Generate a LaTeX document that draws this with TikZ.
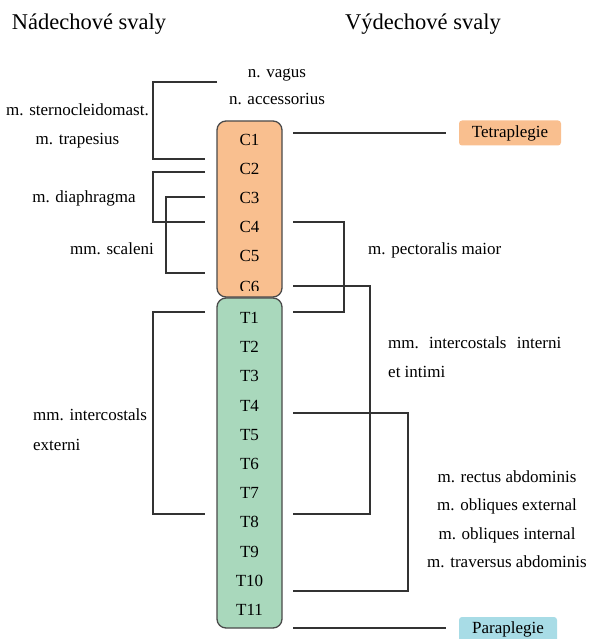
\documentclass[tikz,border=0pt]{standalone}
\usepackage{fontspec}
\setmainfont{Liberation Serif}
\definecolor{cervical}{HTML}{F9BF8F}
\definecolor{thoracic}{HTML}{A9D8BC}
\definecolor{lumbar}{HTML}{A8DCE6}
\definecolor{edge}{HTML}{4A4A4A}
\begin{document}
\begin{tikzpicture}[x=1pt,y=-1pt,
  every node/.style={inner sep=0pt,font=\fontsize{17}{20}\selectfont},
  head/.style={anchor=base,font=\fontsize{22.5}{26}\selectfont},
  musc/.style={anchor=base},
  vlabel/.style={anchor=center},
  spine/.style={draw=edge,line width=1.3pt,rounded corners=9pt},
  tag/.style={rounded corners=3pt,minimum height=25pt},
  link/.style={draw=black!80,line width=1.2pt}]
\useasboundingbox (0,0) rectangle (591,639);

% headings
\node[head] (insp) at (89,30) {Nádechové svaly};
\node[head] (exsp) at (423,30) {Výdechové svaly};

% spine
\draw[spine,fill=cervical] (217,121) rectangle (282,297);
\begin{scope}
  \clip (217,121) rectangle (282,290);
  \node[vlabel] (C6) at (249.5,287) {C6};
\end{scope}
\node[vlabel] (C1) at (249.5,140) {C1};
\node[vlabel] (C2) at (249.5,169) {C2};
\node[vlabel] (C3) at (249.5,198) {C3};
\node[vlabel] (C4) at (249.5,227) {C4};
\node[vlabel] (C5) at (249.5,256) {C5};

\draw[spine,fill=thoracic] (217,298) rectangle (282,628);
\node[vlabel] (T1) at (249.5,318) {T1};
\node[vlabel] (T2) at (249.5,347.2) {T2};
\node[vlabel] (T3) at (249.5,376.4) {T3};
\node[vlabel] (T4) at (249.5,405.6) {T4};
\node[vlabel] (T5) at (249.5,434.8) {T5};
\node[vlabel] (T6) at (249.5,464) {T6};
\node[vlabel] (T7) at (249.5,493.2) {T7};
\node[vlabel] (T8) at (249.5,522.4) {T8};
\node[vlabel] (T9) at (249.5,551.6) {T9};
\node[vlabel] (T10) at (249.5,580.8) {T10};
\node[vlabel] (T11) at (249.5,610) {T11};

% inspiratory muscles
\node[musc] (vagus) at (277,78) {n. vagus};
\node[musc] (access) at (277,105) {n. accessorius};
\node[musc] (scm) at (77.5,116) {m. sternocleidomast.};
\node[musc] (trap) at (77.5,145) {m. trapesius};
\node[musc] (diaph) at (84,202) {m. diaphragma};
\node[musc] (scal) at (112,254) {mm. scaleni};
\node[musc,anchor=base west] (icext) at (33,420) {mm. intercostals};
\node[musc,anchor=base west] (icext2) at (33,450) {externi};

\draw[link] (217,82) -- (153,82) -- (153,159) -- (205,159);
\draw[link] (205,172) -- (153,172) -- (153,222) -- (205,222);
\draw[link] (205,197) -- (166,197) -- (166,273) -- (205,273);
\draw[link] (205,312) -- (153,312) -- (153,514) -- (205,514);

% expiratory muscles
\node[musc,anchor=base west] (pect) at (368,254) {m. pectoralis maior};
\node[musc,anchor=base west] (icint) at (388,348) {\makebox[173pt][s]{mm.\hfill intercostals\hfill interni}};
\node[musc,anchor=base west] (icint2) at (388,377) {et intimi};
\node[musc] (rect) at (507,482) {m. rectus abdominis};
\node[musc] (oblext) at (507,510.5) {m. obliques external};
\node[musc] (oblint) at (507,539) {m. obliques internal};
\node[musc] (trav) at (507,567.5) {m. traversus abdominis};

\draw[link] (293,222) -- (344,222) -- (344,312) -- (293,312);
\draw[link] (293,286) -- (370,286) -- (370,514) -- (293,514);
\draw[link] (293,413) -- (408,413) -- (408,591) -- (293,591);

% lesion levels
\node[tag,fill=cervical,minimum width=102pt] (tetra) at (510,133) {Tetraplegie};
\node[tag,fill=lumbar,minimum width=98pt] (para) at (508,629.5) {Paraplegie};
\draw[link] (293,133) -- ([xshift=-13pt]tetra.west);
\draw[link] (293,628) -- ([xshift=-13pt]para.west |- 0,628);
\end{tikzpicture}
\end{document}
